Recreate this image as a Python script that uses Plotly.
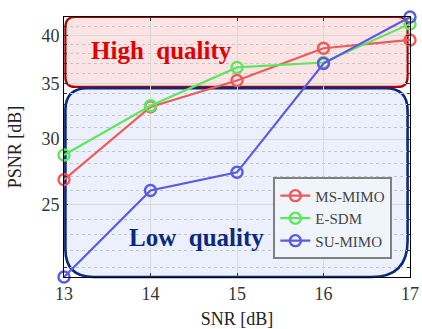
import numpy as np
import plotly.graph_objects as go

snr = [13, 14, 15, 16, 17]
ms_mimo = [26.8, 32.8, 35.3, 38.6, 39.5]
e_sdm = [28.7, 32.9, 36.6, 37.1, 41.3]
su_mimo = [20.45, 26.0, 27.35, 37.0, 42.1]
series_names = ["MS-MIMO", "E-SDM", "SU-MIMO"]
colors = ["#ee5a5a", "#5ee65e", "#5a5ae6"]
y_major = [25, 30, 35, 40]
y_minor = [v for v in range(21, 43) if v not in y_major]
y_range = [20.45, 42.1]

W, H = 422, 329
ml, mr, mt, mb = 64, 12, 17, 52
pw, ph = W - ml - mr, H - mt - mb
SERIF = "Liberation Serif, Times New Roman, serif"

fig = go.Figure()
for name, vals, c in zip(series_names, [ms_mimo, e_sdm, su_mimo], colors):
    fig.add_trace(go.Scatter(
        x=snr, y=vals, name=name, mode="lines+markers",
        line=dict(color=c, width=2.2),
        marker=dict(symbol="circle-open", size=11, color=c, line=dict(width=2.4)),
        cliponaxis=False,
    ))


def rrect(x0, y0, x1, y1, rtl, rtr, rbr, rbl):
    kx, ky = 1.0 / pw, 1.0 / ph
    return (f"M {x0 + rtl*kx},{y1} L {x1 - rtr*kx},{y1} Q {x1},{y1} {x1},{y1 - rtr*ky} "
            f"L {x1},{y0 + rbr*ky} Q {x1},{y0} {x1 - rbr*kx},{y0} "
            f"L {x0 + rbl*kx},{y0} Q {x0},{y0} {x0},{y0 + rbl*ky} "
            f"L {x0},{y1 - rtl*ky} Q {x0},{y1} {x0 + rtl*kx},{y1} Z")


fig.add_shape(type="path", xref="paper", yref="paper", layer="below",
              path=rrect(0.004, 0.731, 0.993, 1.0, 10, 10, 10, 10),
              fillcolor="rgba(250,205,205,0.55)", line=dict(color="#b00000", width=2.2))
fig.add_shape(type="path", xref="paper", yref="paper", layer="below",
              path=rrect(0.004, 0.0, 0.993, 0.726, 22, 22, 36, 28),
              fillcolor="rgba(215,226,250,0.5)", line=dict(color="#0b2a7e", width=2.6))

fig.add_annotation(xref="paper", yref="paper", x=0.283, y=0.873, showarrow=False,
                   xanchor="center", yanchor="middle",
                   text="<b>High\u00a0\u00a0quality</b>",
                   font=dict(family=SERIF, size=25, color="#e00000"))
fig.add_annotation(xref="paper", yref="paper", x=0.382, y=0.152, showarrow=False,
                   xanchor="center", yanchor="middle",
                   text="<b>Low\u00a0\u00a0quality</b>",
                   font=dict(family=SERIF, size=25, color="#0b2a7e"))

tick_font = dict(family=SERIF, size=18, color="#333333")
title_font = dict(family=SERIF, size=18, color="#222222")

fig.update_layout(
    width=W, height=H,
    margin=dict(l=ml, r=mr, t=mt, b=mb, autoexpand=False),
    paper_bgcolor="white", plot_bgcolor="white",
    font=dict(family=SERIF, size=17, color="#333333"),
    showlegend=True,
    legend=dict(x=0.605, y=0.383, xanchor="left", yanchor="top",
                bgcolor="rgba(240,244,252,0.95)", bordercolor="#808080", borderwidth=2,
                font=dict(family=SERIF, size=15, color="#444444"),
                tracegroupgap=0, itemwidth=30),
)
fig.update_xaxes(
    range=[13, 17], tickvals=snr, automargin=False,
    title=dict(text="SNR [dB]", font=title_font), tickfont=tick_font,
    showline=True, linecolor="black", linewidth=1, mirror="ticks",
    ticks="inside", ticklen=4, tickcolor="#333",
    showgrid=True, gridcolor="#d9d9d9", gridwidth=1, zeroline=False,
)
fig.update_yaxes(
    type="log", range=[np.log10(y_range[0]), np.log10(y_range[1])], automargin=False,
    tickvals=y_major, ticktext=[str(v) for v in y_major],
    title=dict(text="PSNR [dB]", font=title_font), tickfont=tick_font,
    showline=True, linecolor="black", linewidth=1, mirror="ticks",
    ticks="inside", ticklen=4, tickcolor="#333",
    showgrid=True, gridcolor="#d9d9d9", gridwidth=1, zeroline=False,
    minor=dict(tickmode="array", tickvals=y_minor, ticks="inside", ticklen=3,
               tickcolor="#333", showgrid=True, gridcolor="#c4c4c4", griddash="dot", gridwidth=1),
)

fig.write_html("out.html", config={"displayModeBar": False},
               post_script="document.body.style.margin='0';document.body.style.overflow='hidden';")
